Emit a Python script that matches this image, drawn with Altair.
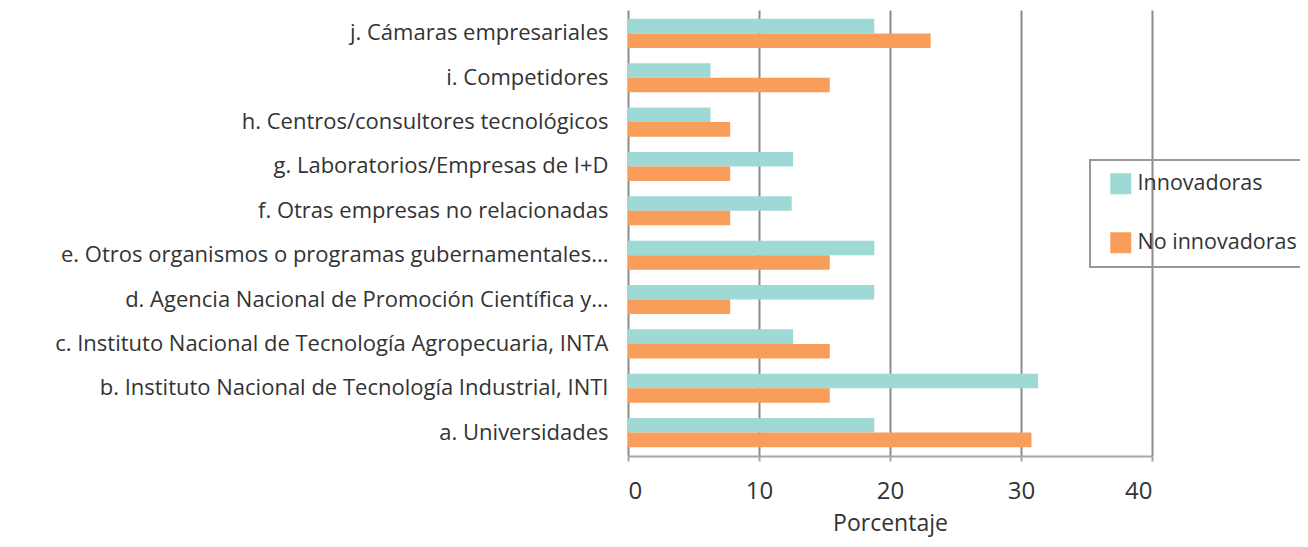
import altair as alt
import pandas as pd

categories = [
    "j. Cámaras empresariales",
    "i. Competidores",
    "h. Centros/consultores tecnológicos",
    "g. Laboratorios/Empresas de I+D",
    "f. Otras empresas no relacionadas",
    "e. Otros organismos o programas gubernamentales...",
    "d. Agencia Nacional de Promoción Científica y...",
    "c. Instituto Nacional de Tecnología Agropecuaria, INTA",
    "b. Instituto Nacional de Tecnología Industrial, INTI",
    "a. Universidades",
]
innovadoras = [18.8, 6.3, 6.3, 12.6, 12.5, 18.8, 18.8, 12.6, 31.3, 18.8]
no_innovadoras = [23.1, 15.4, 7.8, 7.8, 7.8, 15.4, 7.8, 15.4, 15.4, 30.8]
series = ["Innovadoras", "No innovadoras"]
colors = ["#9FD9D6", "#F99E5A"]

rows = []
for c, a, b in zip(categories, innovadoras, no_innovadoras):
    rows.append({"cat": c, "serie": series[0], "val": a})
    rows.append({"cat": c, "serie": series[1], "val": b})
df = pd.DataFrame(rows)

FONT = "Open Sans"

chart = alt.Chart(df).mark_bar().encode(
    y=alt.Y("cat:N", sort=categories, title=None,
            scale=alt.Scale(paddingInner=0.345, paddingOuter=0.2),
            axis=alt.Axis(domain=False, ticks=False, labelPadding=20,
                          labelFontSize=22, labelColor="#333333", labelFont=FONT,
                          labelLimit=700)),
    yOffset=alt.YOffset("serie:N", sort=series, scale=alt.Scale(paddingInner=0, paddingOuter=0)),
    x=alt.X("val:Q", title="Porcentaje",
            scale=alt.Scale(domain=[0, 40], nice=False),
            axis=alt.Axis(values=[0, 10, 20, 30, 40], grid=True, gridColor="#8c8c8c",
                          gridWidth=2, domainColor="#a6a6a6", domainWidth=2,
                          tickColor="#a6a6a6", tickWidth=2, tickSize=5,
                          labelFontSize=24, labelColor="#333333", labelFont=FONT,
                          labelPadding=18, titleFontSize=23, titleFont=FONT,
                          titleFontWeight="normal", titleColor="#333333",
                          titlePadding=9)),
    color=alt.Color("serie:N", sort=series,
                    scale=alt.Scale(domain=series, range=colors),
                    legend=alt.Legend(title=None, orient="none", legendX=462, legendY=150,
                                      symbolType="square", symbolSize=441,
                                      symbolStrokeWidth=0, symbolOffset=7,
                                      labelFontSize=21.5, labelFont=FONT, labelColor="#333333",
                                      labelOffset=6, rowPadding=36, padding=13,
                                      strokeColor="#999999",
                                      labelLimit=300)),
).properties(
    width=524, height=446,
    padding={"left": 620, "top": 2, "right": 148, "bottom": 83},
    autosize=alt.AutoSizeParams(type="none"),
).configure_view(stroke=None).configure_axis(labelFontWeight="normal").configure_legend(strokeWidth=2)

chart.save("out.html", embed_options={"renderer": "svg", "actions": False})
